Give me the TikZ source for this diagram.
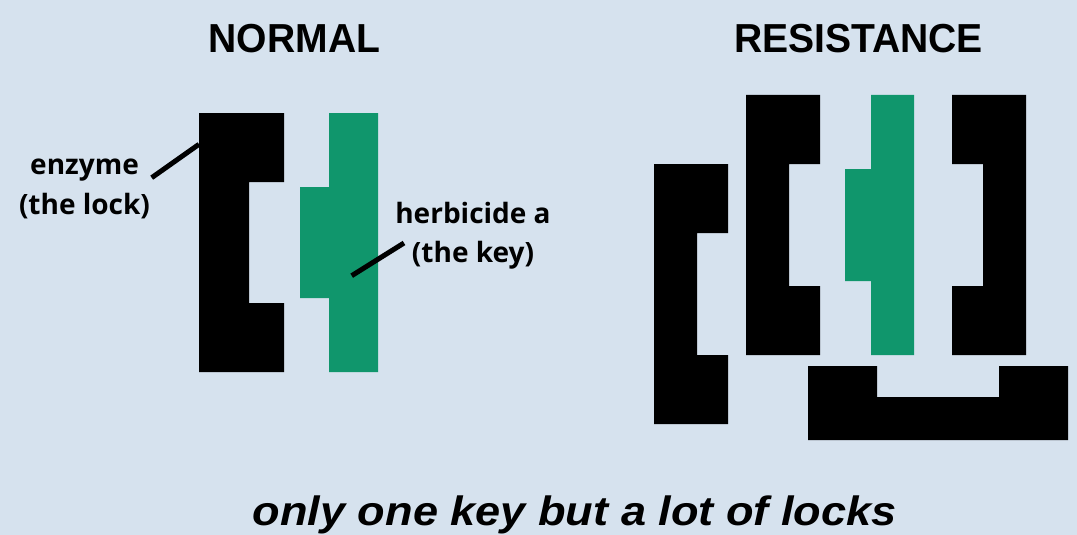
\documentclass[tikz,border=0pt]{standalone}
\usepackage{fontspec}
\usepackage{graphicx}
\setmainfont{Liberation Sans}
\newfontfamily\labelfont{Open Sans}
\definecolor{bg}{RGB}{214,226,238}
\definecolor{keygreen}{RGB}{16,150,108}
\tikzset{
  lockpart/.style={fill=black},
  keypart/.style={fill=keygreen},
  pointer/.style={draw=black, line width=5pt},
  title/.style={anchor=base, inner sep=0pt, font=\bfseries\fontsize{40.5}{44}\selectfont},
  tag/.style={anchor=base, inner sep=0pt, align=center, font=\labelfont\bfseries\fontsize{28}{39.5}\selectfont},
}
\begin{document}
\begin{tikzpicture}[x=1pt, y=-1pt]
  % canvas
  \fill[bg] (0,0) rectangle (1077,535);
  \useasboundingbox (0,0) rectangle (1077,535);

  % headings
  \node[title] (hnormal) at (294.5,52.3) {\scalebox{0.965}[1]{NORMAL}};
  \node[title] (hresist) at (858.5,52.3) {\scalebox{0.965}[1]{RESISTANCE}};

  % ---- normal: one lock, one key ----
  \fill[lockpart] (199,113) -- (284,113) -- (284,182) -- (249,182) -- (249,303)
    -- (284,303) -- (284,372) -- (199,372) -- cycle;
  \fill[keypart] (329,113) -- (378,113) -- (378,372) -- (329,372) -- (329,298)
    -- (300,298) -- (300,187) -- (329,187) -- cycle;

  % labels (anchored on the baseline of their last line)
  \node[tag] (lenzyme) at (84.5,214) {enzyme\\(the lock)};
  \node[tag] (lherb) at (473,262.7) {herbicide a\\(the key)};
  \coordinate (enzA) at (151.7,177.7);
  \coordinate (enzB) at (199,144.3);
  \coordinate (herbA) at (351.7,275.7);
  \coordinate (herbB) at (404,243);
  \draw[pointer] (enzA) -- (enzB);
  \draw[pointer] (herbA) -- (herbB);

  % ---- resistance: many locks around one key ----
  % outer left lock
  \fill[lockpart] (654,164) -- (728,164) -- (728,233) -- (697,233) -- (697,355)
    -- (728,355) -- (728,424) -- (654,424) -- cycle;
  % inner left lock
  \fill[lockpart] (746,95) -- (820,95) -- (820,164) -- (789,164) -- (789,286)
    -- (820,286) -- (820,355) -- (746,355) -- cycle;
  % key
  \fill[keypart] (871,95) -- (914,95) -- (914,355) -- (871,355) -- (871,281)
    -- (845,281) -- (845,169) -- (871,169) -- cycle;
  % right lock
  \fill[lockpart] (952,95) -- (1026,95) -- (1026,355) -- (952,355) -- (952,286)
    -- (983,286) -- (983,164) -- (952,164) -- cycle;
  % bottom lock
  \fill[lockpart] (808,366) -- (877,366) -- (877,397) -- (999,397) -- (999,366)
    -- (1068,366) -- (1068,440) -- (808,440) -- cycle;

  % caption
  \node[anchor=base, inner sep=0pt, font=\bfseries\itshape\fontsize{41}{44}\selectfont]
    (caption) at (574.7,525) {\scalebox{1.1}[1]{only one key but a lot of locks}};
\end{tikzpicture}
\end{document}
